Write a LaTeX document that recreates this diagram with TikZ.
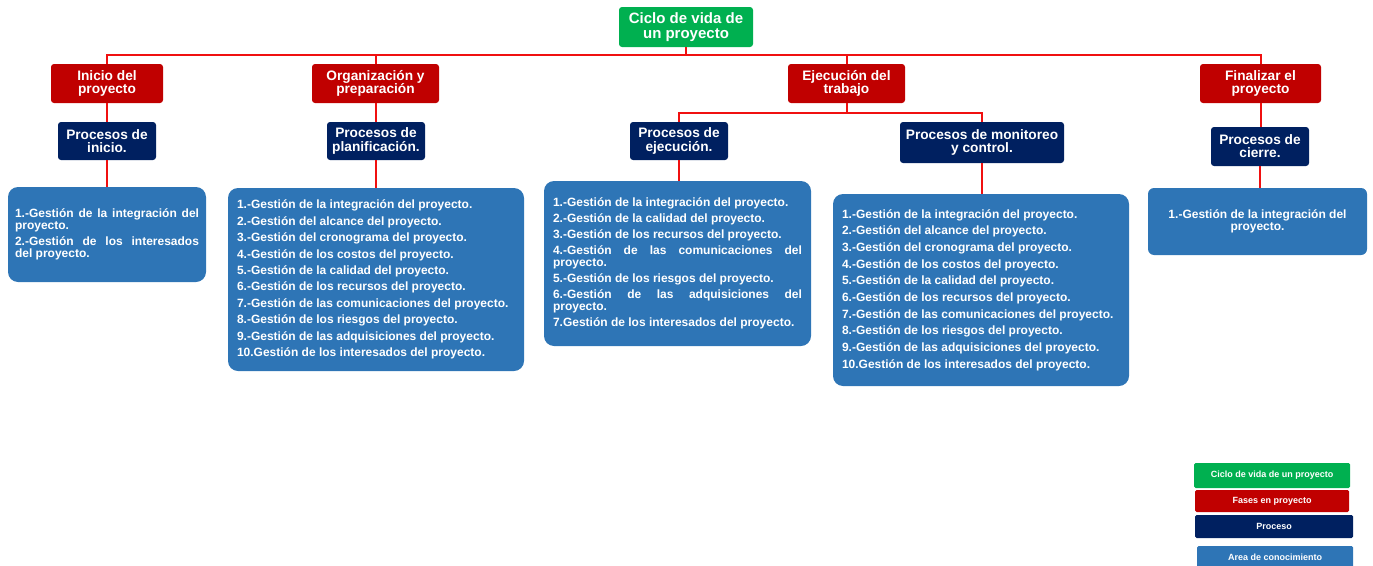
\documentclass[tikz,border=0pt]{standalone}
\usepackage{fontspec}
\setmainfont{Liberation Sans}
\definecolor{cgreen}{HTML}{00B050}
\definecolor{cred}{HTML}{C00000}
\definecolor{cnavy}{HTML}{002060}
\definecolor{cblue}{HTML}{2E75B6}
\definecolor{cline}{HTML}{F01010}
\lefthyphenmin=62 \righthyphenmin=62
\newcommand\areaprep[1]{\parindent=0pt \parskip=#1\relax \hyphenpenalty=10000 \exhyphenpenalty=10000 \tolerance=10000 \lefthyphenmin=62 \righthyphenmin=62 \spaceskip=0.278em plus 0.3em minus 0pt\relax}
\begin{document}
\begin{tikzpicture}[x=1pt,y=-1pt,
 base/.style={inner sep=0pt, text=white, rounded corners=3pt, align=center},
 lifebox/.style={base, fill=cgreen, font=\bfseries\fontsize{15}{15}\selectfont},
 phasebox/.style={base, fill=cred, font=\bfseries\fontsize{13.7}{13.2}\selectfont},
 procbox/.style={base, fill=cnavy, font=\bfseries\fontsize{13.7}{13.2}\selectfont},
 areabox/.style={inner sep=0pt, text=white, fill=cblue, rounded corners=10pt, font=\bfseries\fontsize{12}{12}\selectfont},
 legbox/.style={base, rounded corners=1.5pt, font=\bfseries\fontsize{9}{9}\selectfont},
 conn/.style={draw=cline, line width=2pt}
]
\useasboundingbox (0,0) rectangle (1373,565);

% top
\node[lifebox, minimum width=134pt, minimum height=40pt] (ciclo) at (686,27) {Ciclo de vida de\\un proyecto};

% phases
\node[phasebox, minimum width=112pt, minimum height=39pt] (inicio) at (107,83.5) {Inicio del\\proyecto};
\node[phasebox, minimum width=127pt, minimum height=39pt] (org) at (375.5,83.5) {Organización y\\preparación};
\node[phasebox, minimum width=117pt, minimum height=39pt] (ejec) at (846.5,83.5) {Ejecución del\\trabajo};
\node[phasebox, minimum width=121pt, minimum height=39pt] (fin) at (1260.5,83.5) {Finalizar el\\proyecto};

% processes
\node[procbox, minimum width=98pt, minimum height=38pt] (pini) at (107,141) {Procesos de\\inicio.};
\node[procbox, minimum width=98pt, minimum height=38pt] (pplan) at (376,141) {Procesos de\\planificación.};
\node[procbox, minimum width=98pt, minimum height=38pt] (pej) at (679,141) {Procesos de\\ejecución.};
\node[procbox, minimum width=164pt, minimum height=41pt] (pmon) at (982,142.5) {Procesos de monitoreo\\y control.};
\node[procbox, minimum width=98pt, minimum height=39pt] (pcie) at (1260,146.5) {Procesos de\\cierre.};

% knowledge areas
\node[areabox, minimum width=198pt, minimum height=95pt, text width=184pt, align=justify] (a1) at (107,234.5)
 {\areaprep{4pt}1.-Gestión de la integración del proyecto.\par
 2.-Gestión de los interesados del proyecto.};
\node[areabox, minimum width=296pt, minimum height=183pt, text width=278pt, align=left] (a2) at (376,279.5)
 {\areaprep{4.4pt}1.-Gestión de la integración del proyecto.\par
 2.-Gestión del alcance del proyecto.\par
 3.-Gestión del cronograma del proyecto.\par
 4.-Gestión de los costos del proyecto.\par
 5.-Gestión de la calidad del proyecto.\par
 6.-Gestión de los recursos del proyecto.\par
 7.-Gestión de las comunicaciones del proyecto.\par
 8.-Gestión de los riesgos del proyecto.\par
 9.-Gestión de las adquisiciones del proyecto.\par
 10.Gestión de los interesados del proyecto.};
\node[areabox, minimum width=267pt, minimum height=165pt, text width=249pt, align=justify] (a3) at (677.5,263.5)
 {\areaprep{4pt}1.-Gestión de la integración del proyecto.\par
 2.-Gestión de la calidad del proyecto.\par
 3.-Gestión de los recursos del proyecto.\par
 4.-Gestión de las comunicaciones del proyecto.\par
 5.-Gestión de los riesgos del proyecto.\par
 6.-Gestión de las adquisiciones del proyecto.\par
 7.Gestión de los interesados del proyecto.};
\node[areabox, minimum width=296pt, minimum height=192pt, text width=278pt, align=left] (a4) at (981,290)
 {\areaprep{4.7pt}1.-Gestión de la integración del proyecto.\par
 2.-Gestión del alcance del proyecto.\par
 3.-Gestión del cronograma del proyecto.\par
 4.-Gestión de los costos del proyecto.\par
 5.-Gestión de la calidad del proyecto.\par
 6.-Gestión de los recursos del proyecto.\par
 7.-Gestión de las comunicaciones del proyecto.\par
 8.-Gestión de los riesgos del proyecto.\par
 9.-Gestión de las adquisiciones del proyecto.\par
 10.Gestión de los interesados del proyecto.};
\node[areabox, rounded corners=6pt, minimum width=219pt, minimum height=67pt, align=center] (a5) at (1257.5,221.5)
 {1.-Gestión de la integración del\\proyecto.};

% legend
\node[legbox, fill=cgreen, minimum width=156pt, minimum height=25pt] (lg1) at (1272,475.5) {Ciclo de vida de un proyecto};
\node[legbox, fill=cred, minimum width=154pt, minimum height=22pt] (lg2) at (1272,501) {Fases en proyecto};
\node[legbox, fill=cnavy, minimum width=158pt, minimum height=23pt] (lg3) at (1274,526.5) {Proceso};
\node[legbox, fill=cblue, minimum width=156pt, minimum height=22pt] (lg4) at (1275,557) {Area de conocimiento};

% connectors
\coordinate (bus) at (686,55);
\coordinate (ebus) at (846.5,113);
\draw[conn] (ciclo.south) -- (bus);
\draw[conn] (inicio.north) |- (bus) -| (fin.north);
\draw[conn] (org.north) -- (org.north |- bus);
\draw[conn] (ejec.north) -- (ejec.north |- bus);
\draw[conn] (inicio.south) -- (pini.north);
\draw[conn] (org.south) -- (org.south |- pplan.north);
\draw[conn] (fin.south) -- (fin.south |- pcie.north);
\draw[conn] (ejec.south) -- (ebus);
\draw[conn] (pej.north) |- (ebus) -| (pmon.north);
\draw[conn] (pini.south) -- (pini.south |- a1.north);
\draw[conn] (pplan.south) -- (pplan.south |- a2.north);
\draw[conn] (pej.south) -- (pej.south |- a3.north);
\draw[conn] (pmon.south) -- (pmon.south |- a4.north);
\draw[conn] (pcie.south) -- (pcie.south |- a5.north);
\end{tikzpicture}
\end{document}
